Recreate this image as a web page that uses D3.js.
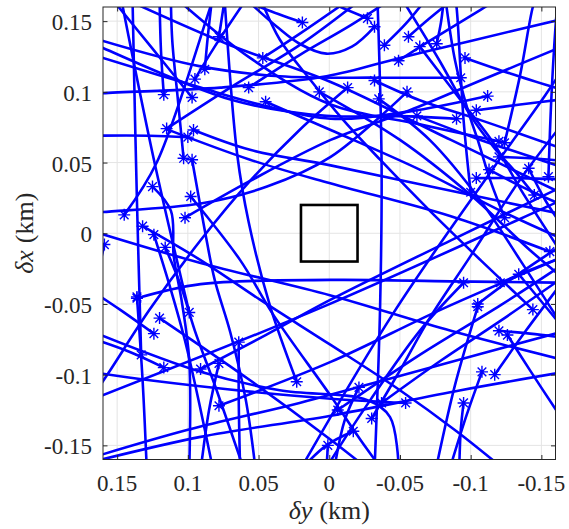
<!DOCTYPE html>
<html>
<head>
<meta charset="utf-8">
<script src="https://cdn.jsdelivr.net/npm/d3@7"></script>
<style>
  body { margin: 0; background: #fff; }
</style>
</head>
<body>
<svg id="chart" width="569" height="529"></svg>
<script>
// axes: horizontal is δy (reversed), vertical is δx, both in km
const yDomainKm = [0.16, -0.16]
const xDomainKm = [-0.16, 0.16]
const tickValues = [-0.15, -0.1, -0.05, 0, 0.05, 0.1, 0.15]
const tickLabels = ['-0.15', '-0.1', '-0.05', '0', '0.05', '0.1', '0.15']
const boxHalf = 0.02

// trajectories, [δy, δx] in km, first point = start (asterisk)
const tracks = [
  [[0.019,0.149],[0.036,0.155],[0.057,0.163]],
  [[-0.027,0.152],[-0.008,0.160],[0.003,0.165]],
  [[-0.032,0.146],[-0.016,0.132],[0.002,0.127],[0.021,0.134],[0.037,0.146],[0.054,0.161]],
  [[-0.039,0.133],[-0.054,0.148],[-0.068,0.165]],
  [[-0.056,0.139],[-0.071,0.152],[-0.087,0.165]],
  [[-0.076,0.134],[-0.079,0.149],[-0.081,0.165]],
  [[-0.064,0.132],[-0.093,0.094],[-0.116,0.064],[-0.136,0.030],[-0.163,-0.012]],
  [[-0.096,0.124],[-0.128,0.113],[-0.163,0.102]],
  [[-0.093,0.110],[-0.036,0.110],[0.035,0.111],[0.091,0.118],[0.160,0.136],[0.169,0.139]],
  [[-0.112,0.097],[-0.056,0.086],[-0.001,0.081],[0.049,0.091],[0.091,0.103],[0.160,0.124],[0.169,0.127]],
  [[-0.090,0.081],[-0.043,0.083],[0.002,0.083],[0.068,0.094],[0.160,0.131],[0.169,0.135]],
  [[-0.124,0.064],[-0.135,0.112],[-0.144,0.160],[-0.146,0.165]],
  [[-0.120,0.065],[-0.064,0.077],[-0.001,0.091],[0.056,0.124],[0.107,0.165]],
  [[-0.167,0.152],[-0.100,0.136],[-0.050,0.124],[0.002,0.111],[0.077,0.103],[0.160,0.099],[0.169,0.098]],
  [[-0.155,0.040],[-0.157,0.094],[-0.160,0.146],[-0.161,0.158]],
  [[-0.104,0.039],[-0.135,0.039],[-0.167,0.038]],
  [[-0.100,0.029],[-0.095,0.080],[-0.090,0.160],[-0.089,0.165]],
  [[-0.113,0.045],[-0.136,0.033],[-0.167,0.019]],
  [[-0.145,0.027],[-0.132,0.043],[-0.117,0.060],[-0.100,0.083],[-0.078,0.122],[-0.050,0.168]],
  [[-0.124,0.011],[-0.114,0.037],[-0.105,0.066],[-0.098,0.087],[-0.089,0.122],[-0.082,0.167]],
  [[-0.156,-0.013],[-0.086,0.012],[0.002,0.036],[0.056,0.052],[0.116,0.074]],
  [[0.021,-0.168],[-0.045,-0.057],[-0.116,0.046],[-0.153,0.098],[-0.167,0.119]],
  [[0.169,-0.118],[0.002,-0.051],[-0.161,0.022],[-0.170,0.026]],
  [[0.136,-0.046],[0.091,-0.036],[-0.001,-0.033],[-0.086,-0.034],[-0.167,-0.035]],
  [[-0.108,-0.098],[-0.097,-0.129],[-0.086,-0.164]],
  [[-0.117,-0.100],[-0.139,-0.069],[-0.163,-0.037]],
  [[-0.095,-0.120],[-0.093,-0.139],[-0.092,-0.164]],
  [[-0.021,-0.109],[-0.011,-0.132],[-0.004,-0.164]],
  [[-0.054,-0.120],[-0.001,-0.117],[0.056,-0.112],[0.127,-0.104],[0.169,-0.098]],
  [[0.169,-0.069],[0.091,-0.098],[0.035,-0.111],[-0.027,-0.118],[-0.043,-0.130],[-0.049,-0.164]],
  [[0.078,-0.122],[-0.001,-0.091],[-0.079,-0.054],[-0.167,-0.016]],
  [[0.169,-0.162],[0.091,-0.144],[-0.001,-0.129],[-0.093,-0.111],[-0.167,-0.098]],
  [[0.169,-0.159],[0.100,-0.139],[0.021,-0.120],[-0.064,-0.097],[-0.167,-0.069]],
  [[0.099,-0.056],[0.124,0.052],[0.147,0.165]],
  [[0.078,-0.092],[0.085,-0.125],[0.091,-0.168]],
  [[0.064,-0.077],[0.064,-0.118],[0.063,-0.168]],
  [[0.136,-0.045],[0.132,-0.104],[0.129,-0.168]],
  [[0.133,-0.086],[0.136,0.023],[0.139,0.160],[0.139,0.165]],
  [[0.117,0.098],[0.119,0.129],[0.120,0.165]],
  [[0.095,0.109],[0.081,0.132],[0.059,0.165]],
  [[0.088,0.116],[0.086,0.138],[0.083,0.165]],
  [[0.078,0.139],[0.076,0.152],[0.074,0.165]],
  [[0.047,0.124],[0.021,0.141],[-0.011,0.163]],
  [[0.057,0.103],[0.021,0.126],[-0.015,0.147],[-0.043,0.165]],
  [[0.097,0.096],[0.127,0.133],[0.153,0.165]],
  [[0.143,0.165],[0.070,0.133],[-0.001,0.107],[-0.086,0.066],[-0.167,0.027]],
  [[0.023,-0.105],[0.042,-0.051],[0.057,0.008],[0.065,0.055],[0.074,0.165]],
  [[-0.055,0.100],[-0.001,0.054],[0.044,0.033],[0.091,0.021],[0.160,0.015],[0.169,0.014]],
  [[0.115,0.074],[0.070,0.103],[0.021,0.133],[-0.022,0.165]],
  [[0.145,0.013],[0.122,0.050],[0.084,0.160],[0.082,0.165]],
  [[0.159,-0.008],[0.162,-0.021]],
  [[0.125,0.033],[0.112,0.016],[0.110,-0.016],[0.104,-0.050],[0.099,-0.090],[0.099,-0.168]],
  [[0.169,0.002],[0.091,-0.021],[-0.001,-0.044],[-0.086,-0.069],[-0.167,-0.090]],
  [[0.132,0.005],[0.091,-0.019],[0.049,-0.047],[-0.001,-0.079],[-0.050,-0.111],[-0.090,-0.140],[-0.125,-0.168]],
  [[0.124,-0.001],[0.112,-0.040],[0.102,-0.076],[0.092,-0.120],[0.082,-0.168]],
  [[0.116,-0.010],[0.105,-0.037],[0.095,-0.069],[0.080,-0.110],[0.060,-0.168]],
  [[0.102,0.011],[0.056,0.037],[-0.001,0.066],[-0.057,0.087],[-0.107,0.108],[-0.167,0.133]],
  [[0.098,0.026],[0.063,-0.019],[0.040,-0.057],[-0.001,-0.115],[-0.022,-0.146],[-0.038,-0.168]],
  [[-0.006,-0.125],[-0.064,-0.086],[-0.121,-0.051],[-0.167,-0.021]],
  [[-0.037,-0.120],[-0.079,-0.090],[-0.121,-0.062],[-0.167,-0.030]],
  [[-0.017,-0.140],[0.002,-0.150],[0.021,-0.168]],
  [[-0.120,-0.069],[-0.142,-0.071],[-0.167,-0.074]],
  [[-0.126,-0.072],[-0.142,-0.097],[-0.163,-0.129]],
  [[-0.105,-0.052],[-0.089,-0.107],[-0.076,-0.164]],
  [[0.001,-0.150],[0.002,-0.168]],
  [[-0.030,-0.131],[-0.050,-0.097],[-0.071,-0.060],[-0.100,-0.016],[-0.135,0.038],[-0.167,0.080]],
  [[0.117,-0.095],[0.141,-0.084],[0.169,-0.074]],
  [[0.091,-0.096],[0.045,-0.072],[-0.001,-0.047],[-0.086,-0.005],[-0.167,0.034]],
  [[0.120,-0.060],[0.056,-0.104],[-0.001,-0.146],[-0.029,-0.168]],
  [[0.124,-0.071],[0.148,-0.054],[0.169,-0.040]],
  [[0.103,0.053],[0.107,0.094],[0.111,0.136],[0.112,0.165]],
  [[0.096,0.073],[0.056,0.059],[-0.001,0.048],[-0.086,0.030],[-0.167,0.013]],
  [[0.100,0.068],[0.127,0.069],[0.169,0.069]],
  [[0.045,0.093],[-0.001,0.073],[-0.064,0.045],[-0.121,0.016],[-0.167,-0.005]],
  [[0.007,0.100],[-0.050,0.066],[-0.100,0.027],[-0.142,-0.012],[-0.167,-0.033]],
  [[-0.013,0.103],[0.021,0.073],[0.056,0.037],[0.091,-0.005],[0.127,-0.054],[0.155,-0.097],[0.169,-0.118]],
  [[-0.032,0.108],[-0.064,0.094],[-0.107,0.080],[-0.167,0.059]],
  [[-0.035,0.095],[-0.071,0.066],[-0.107,0.023],[-0.135,-0.019],[-0.167,-0.069]],
  [[-0.049,0.122],[-0.071,0.136],[-0.107,0.158],[-0.120,0.166]],
  [[-0.062,0.083],[-0.107,0.066],[-0.149,0.052],[-0.167,0.046]],
  [[-0.104,0.087],[-0.135,0.091],[-0.167,0.095]],
  [[-0.120,0.054],[-0.142,0.053],[-0.167,0.051]],
  [[-0.141,0.046],[-0.153,0.023],[-0.167,0.002]],
  [[-0.095,-0.035],[-0.064,-0.069],[-0.029,-0.118],[-0.001,-0.161],[0.003,-0.168]],
  [[-0.121,-0.035],[-0.142,-0.026],[-0.167,-0.016]],
  [[-0.134,-0.029],[-0.149,-0.047],[-0.167,-0.069]],
  [[-0.105,-0.050],[-0.128,-0.033],[-0.153,-0.016],[-0.167,-0.007]],
  [[-0.144,-0.054],[-0.107,-0.019],[-0.071,0.016],[-0.036,0.052],[-0.010,0.080],[0.013,0.108],[0.035,0.137],[0.049,0.167]],
  [[0.097,0.052],[0.088,0.002],[0.081,-0.033],[0.070,-0.070],[0.059,-0.118],[0.052,-0.168]],
  [[-0.034,0.168],[-0.037,0.050],[-0.036,-0.050],[-0.032,-0.168]]
]

const svg = d3.select('#chart')
const mLeft = 103, mTop = 7, size = 452.5
const serif = '"Liberation Serif", "Times New Roman", serif'

// size the tick font so '-0.15' is about as wide as in the reference (~48px)
const probe = svg.append('text').attr('font-family', serif).attr('font-size', 23).text('-0.15')
const probeW = probe.node().getComputedTextLength()
probe.remove()
const tickFont = probeW > 0 ? Math.max(20, Math.min(30, 23 * 48 / probeW)) : 23

const x = d3.scaleLinear().domain(yDomainKm).range([mLeft, mLeft + size])
const y = d3.scaleLinear().domain(xDomainKm).range([mTop + size, mTop])

// grid
const grid = svg.append('g')
grid.selectAll('line.gx').data(tickValues).enter().append('line')
  .attr('x1', d => x(d)).attr('x2', d => x(d))
  .attr('y1', mTop).attr('y2', mTop + size)
  .attr('stroke', '#e4e4e4').attr('stroke-width', 1)
grid.selectAll('line.gy').data(tickValues).enter().append('line')
  .attr('y1', d => y(d)).attr('y2', d => y(d))
  .attr('x1', mLeft).attr('x2', mLeft + size)
  .attr('stroke', '#e4e4e4').attr('stroke-width', 1)

svg.append('clipPath').attr('id', 'plot-clip')
  .append('rect').attr('x', mLeft).attr('y', mTop).attr('width', size).attr('height', size)

const plot = svg.append('g').attr('clip-path', 'url(#plot-clip)')

const line = d3.line()
  .x(d => x(d[0]))
  .y(d => y(d[1]))
  .curve(d3.curveCatmullRom.alpha(0.5))

plot.selectAll('path.track').data(tracks).enter().append('path')
  .attr('class', 'track')
  .attr('d', line)
  .attr('fill', 'none')
  .attr('stroke', '#0000ff')
  .attr('stroke-width', 2.6)
  .attr('stroke-linejoin', 'round')

// asterisk markers at the start of each track
const r = 6, rd = r * 0.72
const star = `M${-r},0L${r},0M0,${-r}L0,${r}M${-rd},${-rd}L${rd},${rd}M${-rd},${rd}L${rd},${-rd}`
plot.selectAll('path.start').data(tracks).enter().append('path')
  .attr('class', 'start')
  .attr('transform', d => `translate(${x(d[0][0])},${y(d[0][1])})`)
  .attr('d', star)
  .attr('fill', 'none')
  .attr('stroke', '#0000ff')
  .attr('stroke-width', 1.4)

// square
svg.append('rect')
  .attr('x', x(boxHalf)).attr('y', y(boxHalf))
  .attr('width', x(-boxHalf) - x(boxHalf))
  .attr('height', y(-boxHalf) - y(boxHalf))
  .attr('fill', 'none').attr('stroke', '#000').attr('stroke-width', 2.6)

// tick marks (inward, all four sides)
const tickStyle = g => {
  g.select('.domain').remove()
  g.selectAll('.tick line').attr('stroke', '#262626')
}
svg.append('g').attr('transform', `translate(0,${mTop + size})`)
  .call(d3.axisBottom(x).tickValues(tickValues).tickFormat('').tickSizeInner(-4.5)).call(tickStyle)
svg.append('g').attr('transform', `translate(${mLeft},0)`)
  .call(d3.axisLeft(y).tickValues(tickValues).tickFormat('').tickSizeInner(-4.5)).call(tickStyle)
svg.append('g').attr('transform', `translate(0,${mTop})`)
  .call(d3.axisTop(x).tickValues(tickValues).tickFormat('').tickSizeInner(-4.5)).call(tickStyle)
svg.append('g').attr('transform', `translate(${mLeft + size},0)`)
  .call(d3.axisRight(y).tickValues(tickValues).tickFormat('').tickSizeInner(-4.5)).call(tickStyle)

// tick labels
svg.append('g').selectAll('text').data(tickValues).enter().append('text')
  .attr('x', d => x(d)).attr('y', mTop + size + 31)
  .attr('text-anchor', 'middle')
  .attr('font-family', serif).attr('font-size', tickFont).attr('fill', '#262626')
  .text((d, i) => tickLabels[i])
svg.append('g').selectAll('text').data(tickValues).enter().append('text')
  .attr('x', mLeft - 11).attr('y', d => y(d) + 9)
  .attr('text-anchor', 'end')
  .attr('font-family', serif).attr('font-size', tickFont).attr('fill', '#262626')
  .text((d, i) => tickLabels[i])

// box
svg.append('rect')
  .attr('x', mLeft).attr('y', mTop).attr('width', size).attr('height', size)
  .attr('fill', 'none').attr('stroke', '#262626').attr('stroke-width', 1)

// axis labels
const xl = svg.append('text')
  .attr('x', mLeft + size / 2).attr('y', 519)
  .attr('text-anchor', 'middle')
  .attr('font-family', serif).attr('font-size', 26).attr('fill', '#262626')
xl.append('tspan').attr('font-style', 'italic').text('δy')
xl.append('tspan').attr('dx', 7).text('(km)')

const yl = svg.append('text')
  .attr('transform', `translate(33,${mTop + size / 2}) rotate(-90)`)
  .attr('text-anchor', 'middle')
  .attr('font-family', serif).attr('font-size', 26).attr('fill', '#262626')
yl.append('tspan').attr('font-style', 'italic').text('δx')
yl.append('tspan').attr('dx', 7).text('(km)')
</script>
</body>
</html>
